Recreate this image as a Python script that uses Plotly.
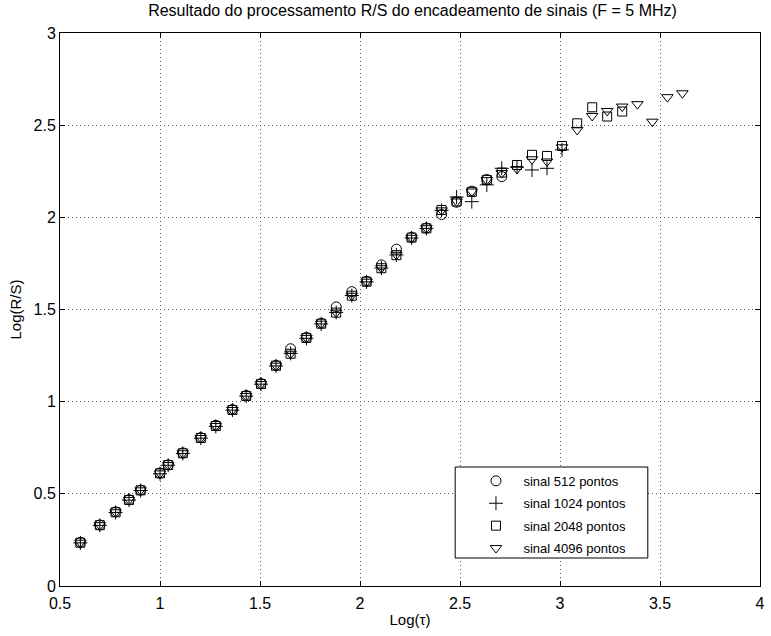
import plotly.graph_objects as go

# log10(tau) positions
x_all = [0.602, 0.699, 0.778, 0.845, 0.903, 1.000, 1.041, 1.114, 1.204, 1.279,
         1.362, 1.431, 1.505, 1.580, 1.653, 1.732, 1.806, 1.881, 1.959, 2.033,
         2.107, 2.182, 2.258, 2.332, 2.408, 2.483, 2.559, 2.634, 2.709, 2.785,
         2.860, 2.935, 3.010, 3.086, 3.161, 3.236, 3.311, 3.387, 3.462, 3.537,
         3.612]

y_512 = [0.237, 0.331, 0.402, 0.468, 0.520, 0.613, 0.657, 0.722, 0.805, 0.872,
         0.957, 1.033, 1.098, 1.197, 1.287, 1.348, 1.425, 1.514, 1.597, 1.653,
         1.742, 1.827, 1.892, 1.942, 2.015, 2.082, 2.142, 2.205, 2.221]

y_1024 = [0.234, 0.329, 0.399, 0.466, 0.518, 0.609, 0.655, 0.719, 0.802, 0.866,
          0.954, 1.030, 1.095, 1.194, 1.262, 1.344, 1.422, 1.484, 1.576, 1.650,
          1.725, 1.796, 1.888, 1.940, 2.038, 2.110, 2.085, 2.176, 2.266, 2.272,
          2.257, 2.266, 2.366]

y_2048 = [0.235, 0.330, 0.400, 0.467, 0.519, 0.611, 0.656, 0.720, 0.803, 0.868,
          0.955, 1.031, 1.096, 1.195, 1.260, 1.346, 1.423, 1.483, 1.575, 1.651,
          1.724, 1.795, 1.890, 1.940, 2.040, 2.086, 2.138, 2.203, 2.243, 2.284,
          2.339, 2.333, 2.387, 2.510, 2.597, 2.547, 2.574]

y_4096 = [0.235, 0.330, 0.400, 0.467, 0.519, 0.611, 0.656, 0.720, 0.803, 0.868,
          0.955, 1.031, 1.096, 1.195, 1.260, 1.346, 1.423, 1.483, 1.575, 1.651,
          1.724, 1.797, 1.889, 1.941, 2.038, 2.086, 2.140, 2.202, 2.240, 2.262,
          2.315, 2.303, 2.380, 2.474, 2.550, 2.577, 2.601, 2.614, 2.519, 2.652,
          2.673]

names = ["sinal 512 pontos", "sinal 1024 pontos", "sinal 2048 pontos", "sinal 4096 pontos"]
series = [y_512, y_1024, y_2048, y_4096]
symbols = ["circle-open", "cross-thin-open", "square-open", "triangle-down-open"]
sizes = [10, 10, 9, 10]

x_ticks = [0.5, 1, 1.5, 2, 2.5, 3, 3.5, 4]
y_ticks = [0, 0.5, 1, 1.5, 2, 2.5, 3]

FONT = "Liberation Sans, Arial, sans-serif"

fig = go.Figure()
for i, (name, ys, sym, sz) in enumerate(zip(names, series, symbols, sizes)):
    fig.add_trace(go.Scatter(
        x=x_all[:len(ys)], y=ys, mode="markers", name=name, legendgroup=f"g{i}",
        marker=dict(symbol=sym, size=sz, color="black", line=dict(width=1, color="black")),
    ))

axis_common = dict(
    showline=True, linecolor="black", linewidth=1, mirror="ticks",
    ticks="inside", ticklen=5, tickcolor="black",
    showgrid=True, gridcolor="#555", griddash="1px,3px", gridwidth=1,
    zeroline=False, tickfont=dict(family=FONT, size=16, color="black"),
)

fig.update_xaxes(range=[0.5, 4], tickvals=x_ticks, ticktext=[f"{v:g}" for v in x_ticks],
                 ticklabelstandoff=3,
                 title=dict(text="Log(τ)", font=dict(family=FONT, size=15, color="black"), standoff=3),
                 **axis_common)
fig.update_yaxes(range=[0, 3], tickvals=y_ticks, ticktext=[f"{v:g}" for v in y_ticks],
                 title=dict(text="Log(R/S)", font=dict(family=FONT, size=15, color="black"), standoff=8),
                 **axis_common)

# legend box
lx0, lx1 = (458 - 60) / 705, (652 - 60) / 705
ly0, ly1 = (586 - 558) / 553, (586 - 467) / 553
fig.add_shape(type="rect", xref="paper", yref="paper", x0=lx0, x1=lx1, y0=ly0, y1=ly1,
              line=dict(color="black", width=1), fillcolor="white", layer="above")

fig.update_layout(
    width=771, height=636,
    margin=dict(l=60, r=6, t=33, b=50),
    paper_bgcolor="white", plot_bgcolor="white",
    title=dict(text="Resultado do processamento R/S do encadeamento de sinais (F = 5 MHz)",
               x=0.535, xanchor="center", y=0.993, yanchor="top",
               font=dict(family=FONT, size=16, color="black")),
    legend=dict(x=lx0 + 0.019, y=ly1 + 0.002, xanchor="left", yanchor="top",
                bgcolor="rgba(0,0,0,0)", borderwidth=0, itemwidth=45,
                font=dict(family=FONT, size=13, color="black"), tracegroupgap=2.5),
    showlegend=True,
)

fig.write_html("out.html")
